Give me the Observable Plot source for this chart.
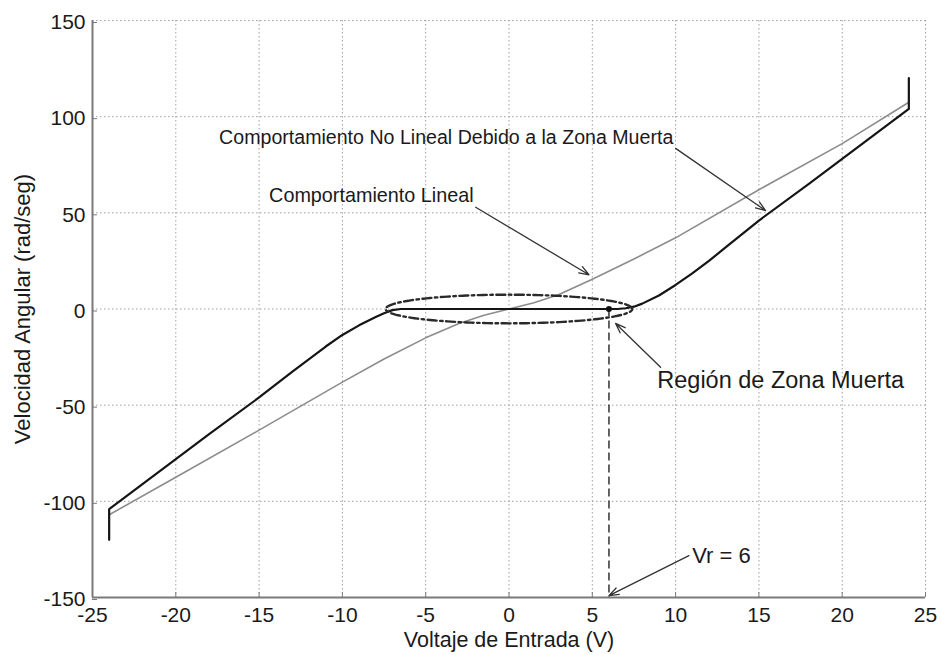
<!DOCTYPE html>
<html>
<head>
<meta charset="utf-8">
<script src="https://cdn.jsdelivr.net/npm/d3@7"></script>
<script src="https://cdn.jsdelivr.net/npm/@observablehq/plot@0.6"></script>
<style>
  html, body { margin: 0; padding: 0; background: #fff; }
  #chart { width: 940px; height: 655px; }
</style>
</head>
<body>
<div id="chart"></div>
<script>
// Linear motor response: input voltage (V) vs angular velocity (rad/seg)
const linearVoltage = [-24, -20, -15, -10, -7.5, -5, -3, -1.5, 0, 1.5, 3, 5, 7.5, 10, 15, 20, 24];
const linearSpeed   = [-107, -87.5, -63, -38, -26, -15, -7.5, -3.2, 0, 3.3, 7.5, 15.5, 26, 37, 62, 86, 107.5];

// Response with dead zone (flat around 0 V), including the end transients
const deadVoltage = [-24, -24, -22, -20, -18, -15, -13, -12, -11, -10, -9, -8, -7.5, -7, -6.5, 6.5, 7, 7.5, 8, 9, 10, 11, 12, 13, 15, 18, 20, 22, 24, 24];
const deadSpeed   = [-120, -104, -91, -78, -65, -46, -32.5, -26, -19.5, -13.5, -8.5, -4.2, -2.2, -0.6, 0, 0, 0.4, 1.2, 2.8, 7, 12.5, 18.5, 25, 32, 46, 65, 78, 91, 104, 120];

// Axis ticks
const xTicks = [-25, -20, -15, -10, -5, 0, 5, 10, 15, 20, 25];
const yTicks = [-150, -100, -50, 0, 50, 100, 150];

// Dead-zone threshold voltage
const Vr = 6;

// Dead-zone region outline (center and half-widths in data units)
const zoneCenter = [0, 0];
const zoneRadius = [7.4, 7.45];

// Annotation texts and their anchors (data units)
const noteText = [
  "Comportamiento No Lineal Debido a la Zona Muerta",
  "Comportamiento Lineal",
  "Región de Zona Muerta",
  "Vr = 6"
];
const noteX = [-17.4, -14.4, 8.9, 11.0];
const noteY = [89.3, 59, -37.2, -128.2];

// Arrows from each note to the feature it points at
const arrowX1 = [10.0, -2.0, 9.1, 10.8];
const arrowY1 = [83.5, 52.9, -30.3, -128.2];
const arrowX2 = [15.4, 4.8, 6.4, Vr];
const arrowY2 = [51.2, 17.8, -7.5, -149];

const linear = linearVoltage.map((v, i) => ({v, w: linearSpeed[i]}));
const dead = deadVoltage.map((v, i) => ({v, w: deadSpeed[i]}));
const notes = noteText.map((t, i) => ({t, v: noteX[i], w: noteY[i]}));
const arrows = arrowX1.map((x1, i) => ({x1, y1: arrowY1[i], x2: arrowX2[i], y2: arrowY2[i]}));
const zoneOutline = d3.range(0, 361, 2).map(a => ({
  v: zoneCenter[0] + zoneRadius[0] * Math.cos(a * Math.PI / 180),
  w: zoneCenter[1] + zoneRadius[1] * Math.sin(a * Math.PI / 180)
}));

const font = "'Liberation Sans', Arial, Helvetica, sans-serif";
const ink = "#1a1a1a";
const axisGray = "#7a7a7a";
const gridStyle = {stroke: "#a0a0a0", strokeOpacity: 1, strokeWidth: 1, strokeDasharray: "1.5,2.5"};

const chart = Plot.plot({
  width: 940,
  height: 655,
  marginLeft: 92,
  marginRight: 15,
  marginTop: 20,
  marginBottom: 58,
  style: {fontFamily: font, fontSize: "21px", color: ink, background: "#fff", overflow: "visible"},
  x: {domain: [-25, 25]},
  y: {domain: [-150, 150]},
  marks: [
    Plot.gridX(xTicks, gridStyle),
    Plot.gridY(yTicks, gridStyle),
    Plot.ruleX([-25], {stroke: axisGray, strokeWidth: 2}),
    Plot.ruleY([-150], {stroke: axisGray, strokeWidth: 2}),
    Plot.axisX(xTicks, {tickSize: -5, tickPadding: 15, stroke: axisGray, fill: ink, fontSize: 21, tickFormat: d => String(d), label: null}),
    Plot.axisY(yTicks, {tickSize: -5, tickPadding: 12, dy: 2, stroke: axisGray, fill: ink, fontSize: 21, tickFormat: d => String(d), label: null}),
    Plot.line(linear, {x: "v", y: "w", stroke: "#8c8c8c", strokeWidth: 1.6}),
    Plot.line(dead, {x: "v", y: "w", stroke: "#151515", strokeWidth: 2.2}),
    Plot.line(zoneOutline, {x: "v", y: "w", stroke: "#2a2a2a", strokeWidth: 2.4, strokeDasharray: "9,3.5,2.5,3.5"}),
    Plot.ruleX([Vr], {y1: 0, y2: -150, stroke: "#333", strokeWidth: 1.5, strokeDasharray: "8,4"}),
    Plot.dot([{v: Vr, w: 0}], {x: "v", y: "w", r: 3, fill: "#111", stroke: "none"}),
    Plot.arrow(arrows, {x1: "x1", y1: "y1", x2: "x2", y2: "y2", stroke: "#333", strokeWidth: 1.3, headLength: 12, headAngle: 40}),
    Plot.text([notes[0]], {x: "v", y: "w", text: "t", textAnchor: "start", lineAnchor: "middle", fontSize: 19.6, fill: ink}),
    Plot.text([notes[1]], {x: "v", y: "w", text: "t", textAnchor: "start", lineAnchor: "middle", fontSize: 19.8, fill: ink}),
    Plot.text([notes[2]], {x: "v", y: "w", text: "t", textAnchor: "start", lineAnchor: "middle", fontSize: 23.5, fill: ink}),
    Plot.text([notes[3]], {x: "v", y: "w", text: "t", textAnchor: "start", lineAnchor: "middle", fontSize: 22, fill: ink}),
    Plot.text(["Voltaje de Entrada (V)"], {text: d => d, frameAnchor: "bottom", dy: 43, textAnchor: "middle", lineAnchor: "middle", fontSize: 21.5, fill: ink}),
    Plot.text(["Velocidad Angular (rad/seg)"], {text: d => d, frameAnchor: "left", dx: -70, rotate: -90, textAnchor: "middle", lineAnchor: "middle", fontSize: 22, fill: ink})
  ]
});

document.getElementById("chart").append(chart);
</script>
</body>
</html>
